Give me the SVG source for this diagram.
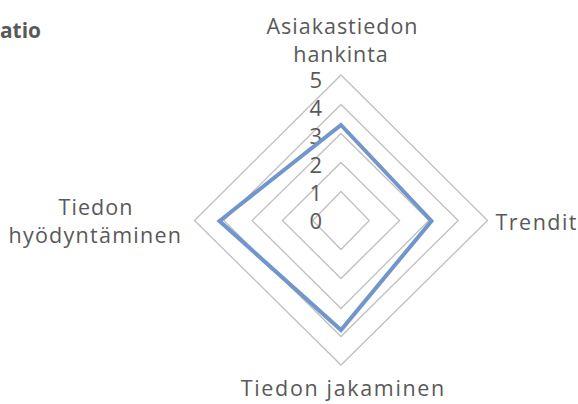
<svg xmlns="http://www.w3.org/2000/svg" width="578" height="404" viewBox="0 0 578 404">
<style>
.lbl{font-family:"Open Sans",Roboto,"Liberation Sans",sans-serif;font-size:21.5px;fill:#595959;text-anchor:middle}
.num{font-family:"Open Sans",Roboto,"Liberation Sans",sans-serif;font-size:22px;fill:#595959;text-anchor:end}
.grid{fill:none;stroke:#BFBFBF;stroke-width:1.3}
.series{fill:none;stroke:#7196CB;stroke-width:4;stroke-linejoin:miter}
</style>
<rect width="578" height="404" fill="#FFFFFF"/>
<text id="title" x="41" y="37.5" font-family="'Open Sans',Roboto,'Liberation Sans',sans-serif" font-size="22" font-weight="bold" fill="#595959" text-anchor="end" textLength="41" lengthAdjust="spacingAndGlyphs">atio</text>
<g id="grid">
<polygon class="grid" points="341,191.5 369.3,220.5 341,249.5 312.7,220.5"/>
<polygon class="grid" points="341,162.5 399.6,220.5 341,278.5 282.4,220.5"/>
<polygon class="grid" points="341,133.5 428.9,220.5 341,308.5 252.1,220.5"/>
<polygon class="grid" points="341,104.5 458.2,220.5 341,336.5 223.8,220.5"/>
<polygon class="grid" points="341,75 487.5,220.5 341,365 194.5,220.5"/>
</g>
<g id="axis-values">
<text class="num" x="322" y="88.3">5</text>
<text class="num" x="322" y="116">4</text>
<text class="num" x="322" y="144">3</text>
<text class="num" x="322" y="172.5">2</text>
<text class="num" x="322" y="200.7">1</text>
<text class="num" x="322" y="229">0</text>
</g>
<g id="series">
<polygon class="series" points="341,125 431.5,221 341,330 219.5,221"/>
</g>
<g id="label-asiakastiedon">
<text class="lbl" x="342" y="34.3" textLength="151" lengthAdjust="spacing">Asiakastiedon</text>
<text class="lbl" x="340.5" y="61.7" textLength="94.5" lengthAdjust="spacing">hankinta</text>
</g>
<g id="label-trendit">
<text class="lbl" x="536" y="230" textLength="81" lengthAdjust="spacing">Trendit</text>
</g>
<g id="label-jakaminen">
<text class="lbl" x="342.5" y="396" textLength="203.5" lengthAdjust="spacing">Tiedon jakaminen</text>
</g>
<g id="label-hyodyntaminen">
<text class="lbl" x="95.5" y="215" textLength="74" lengthAdjust="spacing">Tiedon</text>
<text class="lbl" x="94.7" y="243.3" textLength="172.5" lengthAdjust="spacing">hyödyntäminen</text>
</g>
</svg>
